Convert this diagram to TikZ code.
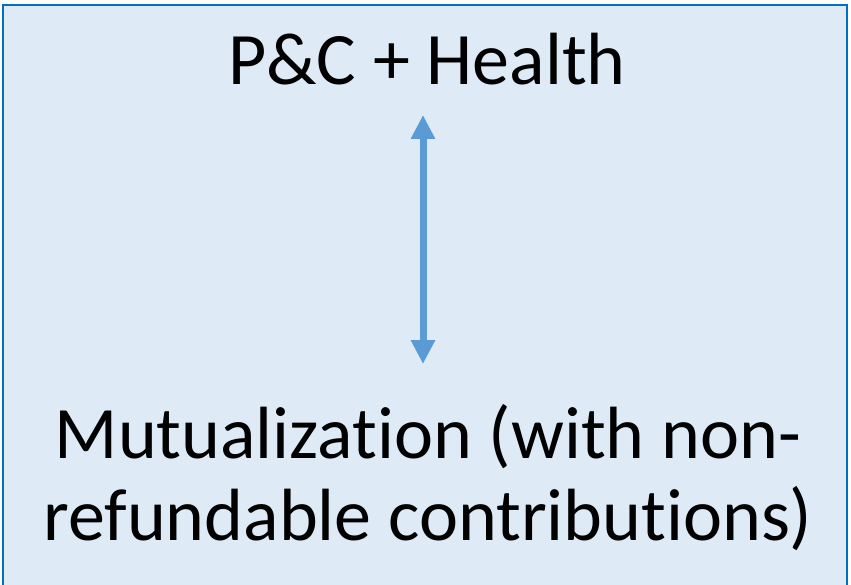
\documentclass[tikz,border=0pt]{standalone}
\usepackage{fontspec}
\setmainfont{Carlito}[Ligatures=NoCommon]
\usetikzlibrary{arrows.meta}

\definecolor{panelfill}{HTML}{DEEBF7}
\definecolor{panelline}{HTML}{0070C0}
\definecolor{arrowblue}{HTML}{5B9BD5}

\tikzset{
  label text/.style={font=\fontsize{74}{82}\selectfont,inner sep=0pt,align=center},
  link/.style={draw=arrowblue,line width=7pt,
    {Triangle[width=23pt,length=24pt]}-{Triangle[width=23pt,length=24pt]}}
}

\begin{document}
\begin{tikzpicture}[x=1pt,y=-1pt]
\useasboundingbox (0,0) rectangle (851,585);
% panel, its lower edge runs off the page
\draw[panelline,fill=panelfill,line width=2.5pt] (3,600)--(3,5)--(847,5)--(847,600);
\node[label text,anchor=base] (top) at (427,85) {P\&C + Health};
% base of a two-line node sits on its last line
\node[label text,anchor=base] (bottom) at (428,540) {Mutualization (with non-\\refundable contributions)};
\coordinate (up) at (423,115);
\coordinate (down) at (423,364);
\draw[link] (up)--(down);
\end{tikzpicture}
\end{document}
